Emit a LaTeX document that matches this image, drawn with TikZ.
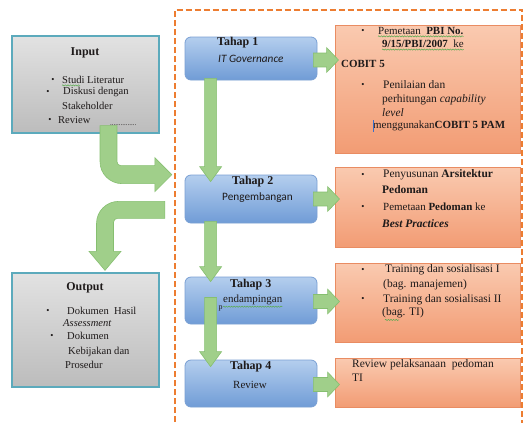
\documentclass[tikz,border=0pt]{standalone}
\usepackage{fontspec}
\setmainfont{Liberation Serif}
\newfontfamily\calibfont{Carlito}
\usetikzlibrary{calc,decorations.pathmorphing}

\definecolor{framec}{RGB}{237,125,49}
\definecolor{tealc}{RGB}{92,170,188}
\definecolor{grayt}{RGB}{226,226,226}
\definecolor{grayb}{RGB}{188,188,188}
\definecolor{bluet}{RGB}{180,206,238}
\definecolor{blueb}{RGB}{112,156,214}
\definecolor{blued}{RGB}{122,160,212}
\definecolor{oranget}{RGB}{250,202,176}
\definecolor{orangeb}{RGB}{242,156,116}
\definecolor{oranged}{RGB}{233,140,98}
\definecolor{arrowg}{RGB}{160,207,138}
\definecolor{arrowgd}{RGB}{134,191,112}
\definecolor{inkc}{RGB}{30,26,26}
\definecolor{spellc}{RGB}{90,170,80}
\definecolor{cursorc}{RGB}{60,110,200}

\tikzset{
  graybox/.style={draw=tealc, line width=1.3bp, top color=grayt, bottom color=grayb,
    inner sep=0pt, minimum width=147bp},
  stagebox/.style={draw=blued, line width=0.8bp, rounded corners=6bp, top color=bluet,
    bottom color=blueb, inner sep=0pt, minimum width=132bp},
  notebox/.style={draw=oranged, line width=1bp, top color=oranget, bottom color=orangeb,
    inner sep=0pt, minimum width=185bp},
  garrow/.style={fill=arrowg, draw=arrowgd, line width=0.6bp},
  framedash/.style={draw=framec, line width=1.8bp, dash pattern=on 6bp off 3bp},
  lbl/.style={anchor=west, inner sep=0pt, text=inkc, font=\fontsize{10.6}{12}\selectfont},
  nlbl/.style={anchor=west, inner sep=0pt, text=inkc, font=\fontsize{11}{13}\selectfont},
  wlbl/.style={anchor=west, inner sep=0pt, text=inkc, font=\fontsize{11.5}{13}\selectfont},
  bul/.style={inner sep=0pt, text=inkc, font=\fontsize{9}{11}\selectfont},
  ttl/.style={inner sep=0pt, text=inkc, font=\fontsize{12}{14}\selectfont\bfseries},
  stl/.style={anchor=west, inner sep=0pt, text=inkc, font=\fontsize{12}{14}\selectfont\bfseries},
  spell/.style={draw=spellc, line width=0.5bp,
    decorate, decoration={snake, amplitude=0.6bp, segment length=2.6bp}},
}

% vertical block arrow from #1 down to the tip at #2
\newcommand\stagedown[2]{%
  \filldraw[garrow] let \p1=(#1), \p2=(#2) in
    (\x1-6pt,\y1) -- (\x1-6pt,\y2+15pt) -- (\x1-11pt,\y2+15pt) -- (\x1,\y2)
    -- (\x1+11pt,\y2+15pt) -- (\x1+6pt,\y2+15pt) -- (\x1+6pt,\y1) -- cycle;}
% horizontal block arrow from #1 to the tip at #2, kept at the height of #1
\newcommand\stageright[2]{%
  \filldraw[garrow] let \p1=(#1), \p2=(#2) in
    (\x1,\y1+7pt) -- (\x2-12pt,\y1+7pt) -- (\x2-12pt,\y1+12.5pt) -- (\x2,\y1)
    -- (\x2-12pt,\y1-12.5pt) -- (\x2-12pt,\y1-7pt) -- (\x1,\y1-7pt) -- cycle;}

\begin{document}
\begin{tikzpicture}[x=1bp,y=-1bp]
\useasboundingbox (0,0) rectangle (525,422);
\clip (0,0) rectangle (525,422);
\fill[white] (0,0) rectangle (525,422);

% dashed frame around the four stages, open at the foot of the page
\node[inner sep=0pt, minimum width=347bp, minimum height=480bp] (frame) at (348.5,250) {};
\draw[framedash] (frame.west |- 0,440) -- (frame.north west) -- (frame.north east)
  -- (frame.east |- 0,440);

% input and output
\node[graybox, minimum height=97bp] (inbox) at (85.5,84.5) {};
\node[graybox, minimum height=114bp] (outbox) at (85.5,330) {};

\node[ttl] (inT) at (85,53) {Input};
\node[bul] (inb1) at (53,80) {•};
\node[lbl] (in1) at (62,80) {Studi Literatur};
\node[bul] (inb2) at (48,92) {•};
\node[lbl] (in2) at (63,92) {Diskusi dengan};
\node[lbl] (in3) at (62,106) {Stakeholder};
\node[bul] (inb3) at (50,120) {•};
\node[lbl] (in4) at (58,120) {Review};
\node[lbl, font=\fontsize{7}{8}\selectfont] (in5) at (110,125) {...............};

\node[ttl] (outT) at (85,288) {Output};
\node[bul] (outb1) at (48,311) {•};
\node[lbl] (out1) at (67,311) {Dokumen~ Hasil};
\node[lbl] (out2) at (63,323) {\itshape Assessment};
\node[bul] (outb2) at (52,336) {•};
\node[lbl] (out3) at (67,336) {Dokumen};
\node[lbl] (out4) at (68,352) {Kebijakan dan};
\node[lbl] (out5) at (65,365) {Prosedur};

% stages
\node[stagebox, minimum height=43bp] (t1) at (251,58.5) {};
\node[stagebox, minimum height=48bp] (t2) at (251,199) {};
\node[stagebox, minimum height=47bp] (t3) at (251,300.5) {};
\node[stagebox, minimum height=47bp] (t4) at (251,383.5) {};

\node[stl] (t1a) at (217,43) {Tahap 1};
\node[nlbl, font=\fontsize{11.3}{13}\calibfont\itshape] (t1b) at (218,59) {IT Governance};
\node[stl] (t2a) at (232,182) {Tahap 2};
\node[nlbl, font=\fontsize{11.3}{13}\calibfont] (t2b) at (222,198) {Pengembangan};
\node[stl] (t3a) at (230,285) {Tahap 3};
\node[nlbl, font=\fontsize{8}{9}\selectfont] (t3p) at (218.5,308) {p};
\node[nlbl] (t3b) at (223,300) {endampingan};
\node[stl] (t4a) at (230,367) {Tahap 4};
\node[nlbl] (t4b) at (233,385) {Review};

% activities of each stage
\node[notebox, minimum height=128bp] (o1) at (427.5,89) {};
\node[notebox, minimum height=80bp] (o2) at (427.5,207) {};
\node[notebox, minimum height=79bp] (o3) at (427.5,302.5) {};
\node[notebox, minimum height=49bp] (o4) at (427.5,382.5) {};

\node[bul] (o1b1) at (363,31) {•};
\node[nlbl] (o1l1) at (378,31) {Pemetaan~ \textbf{PBI No.}};
\node[nlbl] (o1l2) at (382,44) {\textbf{9/15/PBI/2007}~ ke};
\node[nlbl] (o1l3) at (341,64) {\textbf{COBIT 5}};
\node[bul] (o1b2) at (363,85) {•};
\node[wlbl] (o1l4) at (383,85) {Penilaian dan};
\node[wlbl] (o1l5) at (382,100) {perhitungan \textit{capability}};
\node[wlbl] (o1l6) at (382,113) {\itshape level};
\node[nlbl] (o1l7) at (373,126) {menggunakan\textbf{COBIT 5 PAM}};

\node[bul] (o2b1) at (363,175) {•};
\node[wlbl] (o2l1) at (383,175) {Penyusunan \textbf{Arsitektur}};
\node[wlbl] (o2l2) at (382,190) {\textbf{Pedoman}};
\node[bul] (o2b2) at (363,207) {•};
\node[nlbl] (o2l3) at (383,207) {Pemetaan \textbf{Pedoman} ke};
\node[wlbl] (o2l4) at (382,224) {\bfseries\itshape Best Practices};

\node[bul] (o3b1) at (363,270) {•};
\node[wlbl] (o3l1) at (385,270) {Training dan sosialisasi I};
\node[wlbl] (o3l2) at (383,285) {(bag. manajemen)};
\node[bul] (o3b2) at (363,299) {•};
\node[wlbl] (o3l3) at (383,300) {Training dan sosialisasi II};
\node[wlbl] (o3l4) at (382,313) {(bag. TI)};

\node[wlbl] (o4l1) at (352,365) {Review pelaksanaan~ pedoman};
\node[wlbl] (o4l2) at (352,378) {TI};

% spelling marks and text cursor
\draw[spell] ($(in1.south west)+(0,1.5)$) -- ++(18,0);
\draw[spell] ($(o1l1.south west)+(0,1.5)$) -- ($(o1l1.south east)+(0,1.5)$);
\draw[spell] ($(o1l2.south west)+(0,1.5)$) -- ($(o1l2.south east)+(0,1.5)$);
\draw[spell] ($(t3b.south west)+(0,1.5)$) -- ($(t3b.south east)+(0,1.5)$);
\draw[spell] ($(o3l4.south west)+(3,1.5)$) -- ++(14,0);
\draw[cursorc, line width=0.8bp] ($(o1l7.west)+(0,-6)$) -- ($(o1l7.west)+(0,6)$);

% flow between stages
\stagedown{$(t1.south west)+(26,-2)$}{$(t2.north west)+(26,7)$}
\stagedown{$(t2.south west)+(26,-2)$}{$(t3.north west)+(26,5)$}
\stagedown{$(t3.west)+(26,-3)$}{$(t4.north west)+(26,7)$}

\stageright{$(t1.east)+(-4,1.5)$}{$(o1.west |- t1.east)+(4,0)$}
\stageright{$(t2.east)+(-4,0)$}{$(o2.west |- t2.east)+(5,0)$}
\stageright{$(t3.east)+(-4,1)$}{$(o3.west |- t3.east)+(5,0)$}
\stageright{$(t4.east)+(-4,1)$}{$(o4.west |- t4.east)+(5,0)$}

% input into the stages, stages out to the output
\coordinate (intip) at ($(frame.west |- inbox.south)+(-3,41)$);
\coordinate (outstart) at ($(frame.west |- outbox.north)+(-10,-62.5)$);

\filldraw[garrow] let \p1=($(inbox.south)+(23,-8)$), \p2=(intip) in
  (\x1-8.5pt,\y1) -- (\x1-8.5pt,\y2+13pt)
  .. controls (\x1-8.5pt,\y2+0.9pt) and (\x1+1.4pt,\y2-9pt) .. (\x1+13.5pt,\y2-9pt)
  -- (\x2-17pt,\y2-9pt) -- (\x2-17pt,\y2-17pt) -- (\x2,\y2) -- (\x2-17pt,\y2+17pt)
  -- (\x2-17pt,\y2+9pt) -- (\x1+12.5pt,\y2+9pt)
  .. controls (\x1+10.3pt,\y2+9pt) and (\x1+8.5pt,\y2+10.8pt) .. (\x1+8.5pt,\y2+13pt)
  -- (\x1+8.5pt,\y1) -- cycle;

\filldraw[garrow] let \p1=(outstart), \p2=($(outbox.north)+(19.5,-2)$) in
  (\x1,\y1+8.5pt) -- (\x2+13.5pt,\y1+8.5pt)
  .. controls (\x2+1.4pt,\y1+8.5pt) and (\x2-8.5pt,\y1-1.4pt) .. (\x2-8.5pt,\y1-13.5pt)
  -- (\x2-8.5pt,\y2+19pt) -- (\x2-16pt,\y2+19pt) -- (\x2,\y2) -- (\x2+16pt,\y2+19pt)
  -- (\x2+8.5pt,\y2+19pt) -- (\x2+8.5pt,\y1-12.5pt)
  .. controls (\x2+8.5pt,\y1-10.3pt) and (\x2+10.3pt,\y1-8.5pt) .. (\x2+12.5pt,\y1-8.5pt)
  -- (\x1,\y1-8.5pt) -- cycle;
\end{tikzpicture}
\end{document}
